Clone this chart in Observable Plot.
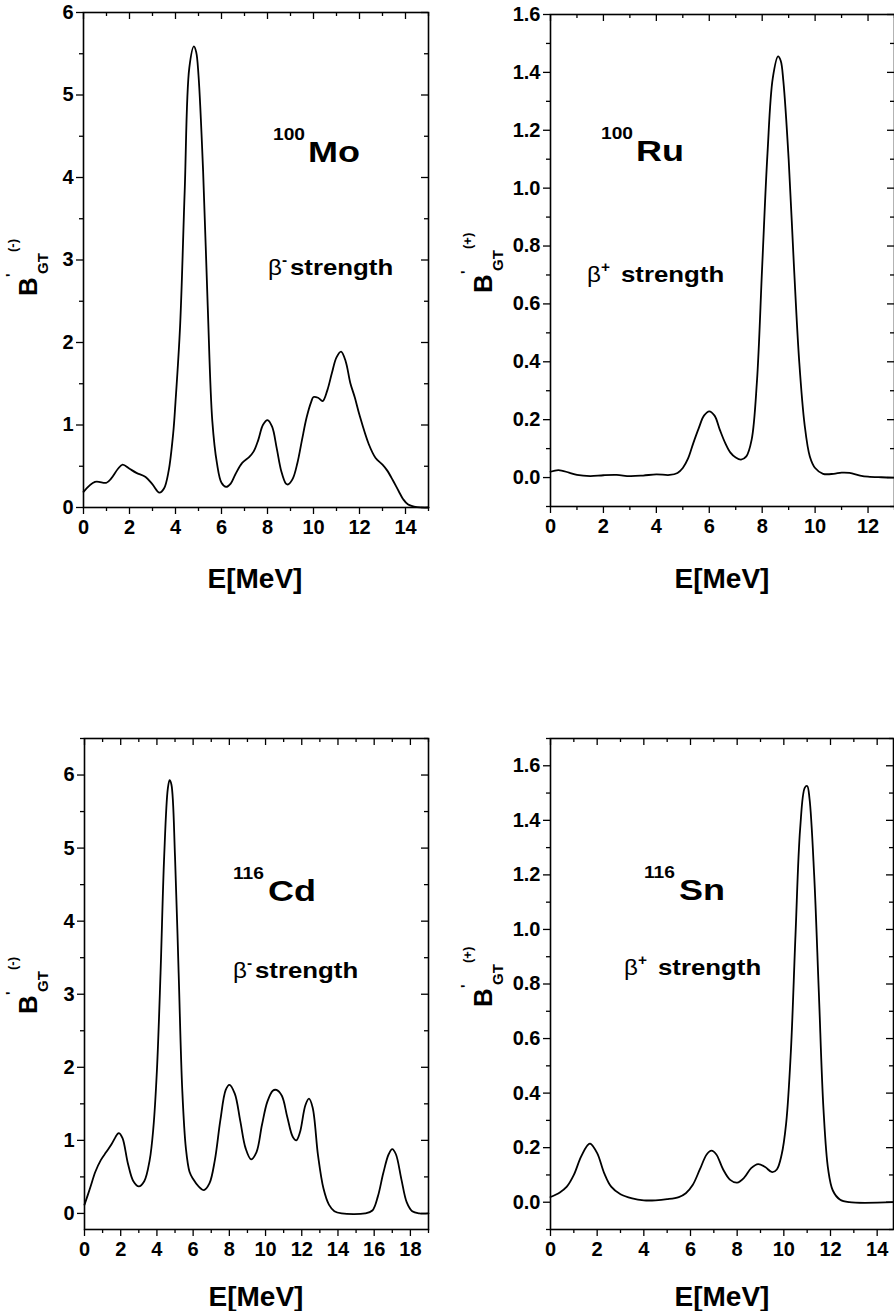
<!DOCTYPE html>
<html><head><meta charset="utf-8">
<script src="https://cdn.jsdelivr.net/npm/d3@7"></script>
<script src="https://cdn.jsdelivr.net/npm/@observablehq/plot@0.6"></script>
<style>
body{margin:0;background:#fff;}
#wrap{position:relative;width:894px;height:1311px;overflow:hidden;background:#fff;}
#wrap svg{position:absolute;max-width:none;}
</style></head><body><div id="wrap"></div>
<script>
// ---- data ----
const moE = [0,0.5,1.0,1.2,1.5,1.7,2.0,2.3,2.7,3.0,3.3,3.5,3.7,3.9,4.0,4.2,4.4,4.6,4.8,4.9,5.0,5.2,5.4,5.6,5.8,6.0,6.2,6.4,6.6,6.9,7.2,7.4,7.6,7.8,8.0,8.2,8.4,8.6,8.8,8.9,9.1,9.3,9.5,9.7,9.9,10.0,10.2,10.4,10.6,10.8,11.0,11.2,11.4,11.6,11.8,12.0,12.4,12.7,13.0,13.2,13.45,13.7,13.9,14.1,14.5,15];
const moB = [0.19,0.31,0.30,0.35,0.47,0.52,0.47,0.42,0.37,0.28,0.18,0.23,0.44,0.9,1.28,2.2,3.84,5.33,5.59,5.52,5.24,4.08,2.45,1.05,0.54,0.30,0.25,0.29,0.40,0.54,0.61,0.68,0.82,1.0,1.06,0.98,0.72,0.44,0.29,0.28,0.35,0.54,0.82,1.09,1.28,1.34,1.33,1.29,1.42,1.63,1.82,1.89,1.77,1.51,1.33,1.12,0.77,0.60,0.52,0.45,0.33,0.20,0.10,0.04,0.005,0];

const ruE = [0,0.3,0.7,1.0,1.5,2.0,2.5,3.0,3.5,4.0,4.5,4.8,5.0,5.2,5.4,5.6,5.8,6.0,6.2,6.4,6.6,6.8,7.0,7.2,7.4,7.6,7.8,8.0,8.2,8.4,8.6,8.7,8.8,9.0,9.2,9.4,9.6,9.8,10.0,10.3,10.7,11.0,11.3,11.7,12.0,12.5,13.0];
const ruB = [0.02,0.026,0.017,0.009,0.005,0.008,0.009,0.005,0.007,0.011,0.009,0.016,0.033,0.066,0.12,0.17,0.214,0.229,0.214,0.165,0.12,0.086,0.069,0.062,0.073,0.13,0.33,0.73,1.12,1.38,1.455,1.44,1.37,1.10,0.73,0.40,0.185,0.073,0.033,0.013,0.013,0.017,0.016,0.007,0.003,0.001,0];

const cdE = [0,0.3,0.6,0.9,1.2,1.5,1.8,1.9,2.1,2.4,2.7,3.0,3.3,3.6,3.8,4.0,4.2,4.4,4.6,4.7,4.8,5.0,5.2,5.4,5.6,5.8,6.0,6.3,6.6,6.9,7.2,7.5,7.8,8.0,8.3,8.6,8.9,9.2,9.5,9.8,10.1,10.4,10.6,10.9,11.2,11.5,11.7,11.9,12.2,12.4,12.6,12.9,13.2,13.5,13.8,14.2,15.5,15.9,16.2,16.5,16.8,17.0,17.2,17.5,17.8,18.1,18.5,19];
const cdB = [0.12,0.34,0.57,0.73,0.84,0.95,1.08,1.10,1.03,0.68,0.44,0.37,0.44,0.73,1.16,1.96,3.29,4.88,5.81,5.93,5.87,4.88,3.29,1.69,0.89,0.57,0.47,0.37,0.32,0.41,0.73,1.27,1.69,1.76,1.64,1.27,0.89,0.74,0.84,1.21,1.53,1.68,1.69,1.61,1.32,1.05,1.0,1.11,1.48,1.57,1.45,0.79,0.34,0.12,0.03,0,0,0.04,0.23,0.55,0.81,0.88,0.81,0.47,0.15,0.03,0,0];

const snE = [0,0.4,0.7,1.0,1.3,1.6,1.7,2.0,2.3,2.6,3.0,3.5,4.0,4.5,5.0,5.5,5.8,6.1,6.4,6.7,6.9,7.1,7.4,7.7,8.0,8.3,8.6,8.9,9.2,9.5,9.7,9.9,10.1,10.3,10.5,10.7,10.9,11.0,11.1,11.3,11.5,11.7,11.9,12.1,12.4,12.8,14.7];
const snB = [0.019,0.036,0.057,0.10,0.165,0.21,0.215,0.18,0.107,0.057,0.029,0.014,0.007,0.007,0.011,0.019,0.033,0.064,0.12,0.176,0.189,0.176,0.12,0.082,0.072,0.09,0.125,0.14,0.129,0.11,0.12,0.172,0.29,0.55,0.98,1.37,1.52,1.526,1.48,1.2,0.77,0.34,0.12,0.043,0.01,0,0];

const nuclei = ["100Mo", "100Ru", "116Cd", "116Sn"];
const xLabel = "E[MeV]";

const wrap = d3.select("#wrap");
const range = (a, b, s) => d3.range(0, Math.round((b - a) / s) + 1).map(i => +(a + i * s).toFixed(3));

function panel(o) {
  const data = o.E.map((e, i) => ({E: e, B: o.B[i]}));
  const none = () => "";
  const pw = o.width - o.mL - o.mR, ph = o.height - o.mT - o.mB;
  const tk = {strokeWidth: 1.3};
  const txt = {fontSize: 20, fontWeight: "bold", fontFamily: "'Liberation Sans', Arial, sans-serif"};
  const inX = (t, len) => Plot.tickX(t, {x: d => d, insetBottom: ph - len, stroke: "black", strokeWidth: 1.3});
  const inY = (t, len) => Plot.tickY(t, {y: d => d, insetLeft: pw - len, stroke: "black", strokeWidth: 1.3});
  const svg = Plot.plot({
    width: o.width, height: o.height,
    marginLeft: o.mL, marginRight: o.mR, marginTop: o.mT, marginBottom: o.mB,
    x: {domain: o.xDomain},
    y: {domain: o.yDomain},
    style: {fontFamily: "'Liberation Sans', Arial, sans-serif", fontSize: "20px", fontWeight: "bold", color: "black", background: "transparent"},
    marks: [
      Plot.line(data, {x: "E", y: "B", curve: "catmull-rom", stroke: "black", strokeWidth: 1.8}),
      Plot.axisX(o.xMajor, {anchor: "bottom", tickSize: 7, tickPadding: 5, label: null, tickFormat: d => String(d), ...tk, ...txt}),
      Plot.axisX(o.xMinor, {anchor: "bottom", tickSize: 4, label: null, tickFormat: none, ...tk}),
      inX(o.xMajor, 7), inX(o.xMinor, 4),
      Plot.axisY(o.yMajor, {anchor: "left", tickSize: 7, tickPadding: 3, label: null, tickFormat: o.yFmt, ...tk, ...txt}),
      Plot.axisY(o.yMinor, {anchor: "left", tickSize: 4, label: null, tickFormat: none, ...tk}),
      inY(o.yMajor, 7), inY(o.yMinor, 4),
      Plot.frame({stroke: "black", strokeWidth: 1.6})
    ]
  });
  svg.style.left = o.left + "px";
  svg.style.top = o.top + "px";
  wrap.node().appendChild(svg);
}

panel({E: moE, B: moB, xDomain: [0, 15], yDomain: [0, 6],
  xMajor: range(0, 14, 2), xMinor: range(1, 15, 2), yMajor: range(0, 6, 1), yMinor: range(0.5, 5.5, 1),
  yFmt: d => String(d), left: 0, top: 0, width: 447, height: 600, mL: 83, mR: 19, mT: 12, mB: 93});
panel({E: ruE, B: ruB, xDomain: [0, 13], yDomain: [-0.1, 1.6],
  xMajor: range(0, 12, 2), xMinor: range(1, 13, 2), yMajor: range(0, 1.6, 0.2), yMinor: range(-0.1, 1.5, 0.2),
  yFmt: d3.format(".1f"), left: 447, top: 0, width: 447, height: 600, mL: 103, mR: 0, mT: 14, mB: 94});
panel({E: cdE, B: cdB, xDomain: [0, 19], yDomain: [-0.22, 6.5],
  xMajor: range(0, 18, 2), xMinor: range(1, 19, 2), yMajor: range(0, 6, 1), yMinor: range(0.5, 6.5, 1),
  yFmt: d => String(d), left: 0, top: 700, width: 447, height: 611, mL: 84, mR: 19, mT: 38, mB: 82});
panel({E: snE, B: snB, xDomain: [0, 14.7], yDomain: [-0.1, 1.7],
  xMajor: range(0, 14, 2), xMinor: range(1, 13, 2), yMajor: range(0, 1.6, 0.2), yMinor: range(-0.1, 1.7, 0.2),
  yFmt: d3.format(".1f"), left: 447, top: 700, width: 447, height: 611, mL: 103, mR: 1, mT: 38, mB: 82});

// ---- text overlay ----
const ov = wrap.append("svg").attr("width", 894).attr("height", 1311)
  .style("left", "0px").style("top", "0px").style("pointer-events", "none")
  .attr("font-family", "'Liberation Sans', Arial, sans-serif").attr("fill", "black");

function txt(x, y, s, size, weight, sx = 1) {
  ov.append("text").attr("transform", `translate(${x},${y}) scale(${sx},1)`)
    .attr("font-size", size).attr("font-weight", weight).text(s);
}
function nucleus(x, y, mass, sym) {
  txt(x, y - 22, mass, 16, "bold", 1.2);
  txt(x + 35, y, sym, 30, "bold", 1.2);
}
function strength(x, y, sign) {
  txt(x, y, "β", 22, "normal", 1.1);
  txt(x + 14, y - 10, sign, 14, "bold", 1.1);
  txt(x + (sign === "-" ? 22 : 34), y, "strength", 21.5, "bold", 1.2);
}
function ylabel(x, y0, sign) {
  const g = ov.append("g").attr("transform", `translate(${x},${y0}) rotate(-90)`);
  g.append("text").attr("font-size", 26).attr("font-weight", "bold").text("B");
  g.append("text").attr("x", 19).attr("y", -21).attr("font-size", 15).attr("font-weight", "bold").text("'");
  g.append("text").attr("x", 22).attr("y", 11).attr("font-size", 15).attr("font-weight", "bold").text("GT");
  g.append("text").attr("x", 44).attr("y", -20).attr("font-size", 13).attr("font-weight", "bold").text(`(${sign})`);
}
function xlab(cx, y) {
  ov.append("text").attr("x", cx).attr("y", y).attr("text-anchor", "middle")
    .attr("font-size", 28).attr("font-weight", "bold").text(xLabel);
}

const parts = nuclei.map(n => [n.slice(0, 3), n.slice(3)]);
nucleus(273, 162, ...parts[0]);
nucleus(601, 161, ...parts[1]);
nucleus(233, 901, ...parts[2]);
nucleus(644, 900, ...parts[3]);

strength(268, 275, "-");
strength(587, 282, "+");
strength(233, 978, "-");
strength(624, 975, "+");

ylabel(37, 296, "-");
ylabel(492, 293, "+");
ylabel(37, 1014, "-");
ylabel(492, 1007, "+");

xlab(255, 588);
xlab(722, 588);
xlab(256, 1306);
xlab(722, 1306);
</script></body></html>
